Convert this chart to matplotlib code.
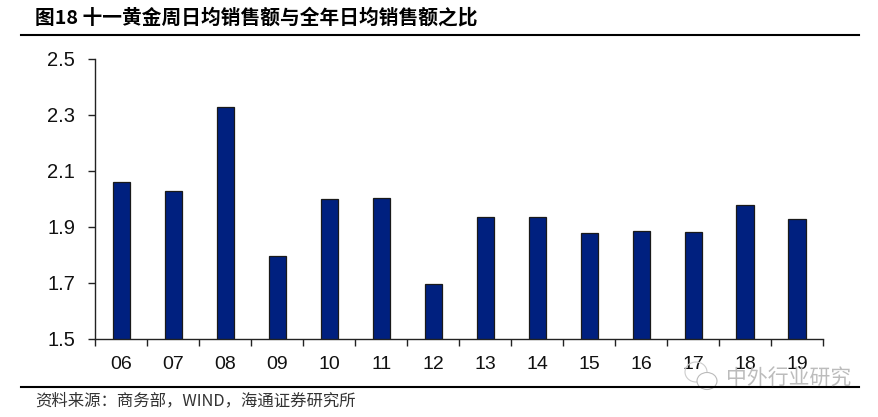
import matplotlib
matplotlib.use("Agg")
import matplotlib.pyplot as plt
from matplotlib.patches import Ellipse
from matplotlib.lines import Line2D

CJK = ['Noto Sans CJK SC', 'DejaVu Sans']
LAT = ['Liberation Sans', 'DejaVu Sans']

years = ['06', '07', '08', '09', '10', '11', '12', '13', '14', '15', '16', '17', '18', '19']
ratio = [2.06, 2.03, 2.33, 1.795, 2.00, 2.005, 1.695, 1.935, 1.935, 1.88, 1.885, 1.882, 1.98, 1.927]
yticks = [1.5, 1.7, 1.9, 2.1, 2.3, 2.5]
title = '图18 十一黄金周日均销售额与全年日均销售额之比'
source = '资料来源：商务部，WIND，海通证券研究所'
mark = '中外行业研究'

W, H = 879, 417
fig = plt.figure(figsize=(W / 100, H / 100), dpi=100)
ax = fig.add_axes([95.5 / W, 1 - 339 / H, 727.5 / W, 280 / H])

xs = range(len(years))
ax.bar(xs, ratio, width=0.33, color='#00207F', edgecolor='#1a1a1a', linewidth=0.9, zorder=2)
ax.set_xlim(-0.5, len(years) - 0.5)
ax.set_ylim(1.5, 2.5)
ax.set_yticks(yticks)
ax.set_yticklabels([f'{v:.1f}' for v in yticks], family=LAT, fontsize=14.5, color='#111111')
ax.set_xticks([i - 0.5 for i in range(len(years) + 1)])
ax.set_xticklabels([''] * (len(years) + 1))
for i, y in zip(xs, years):
    ax.annotate(y, (i, 0), xycoords=('data', 'axes fraction'), xytext=(0, -18.5), textcoords='offset points',
                ha='center', va='center', family=LAT, fontsize=14, color='#111111', zorder=5)
ax.tick_params(axis='x', length=5, width=1, color='#222222', direction='out')
ax.tick_params(axis='y', length=5, width=1, color='#222222', direction='out', pad=9.5)
for s in ('top', 'right'):
    ax.spines[s].set_visible(False)
for s in ('left', 'bottom'):
    ax.spines[s].set_linewidth(1)
    ax.spines[s].set_color('#222222')

fig.add_artist(Line2D([21 / W, 859 / W], [1 - 34.5 / H] * 2, color='black', lw=1.5))
fig.add_artist(Line2D([21 / W, 859 / W], [1 - 387 / H] * 2, color='black', lw=1.5))
fig.text(35 / W, 1 - 17 / H, title, family=CJK, fontsize=14.2, fontweight='bold', va='center', ha='left', color='black')
fig.text(35 / W, 1 - 401 / H, source, family=CJK, fontsize=11.8, va='center', ha='left', color='#333333')

fig.add_artist(Ellipse((696 / W, 1 - 372 / H), 22 / W, 20 / H, facecolor='none', edgecolor='#cccccc', lw=0.8))
fig.add_artist(Ellipse((707 / W, 1 - 381 / H), 20 / W, 17 / H, facecolor='white', edgecolor='#bbbbbb', lw=0.8))
fig.text(788.5 / W, 1 - 379 / H, mark, family=CJK, fontsize=15, va='center', ha='center', color='#b5b5b5', alpha=0.9)

fig.savefig('out.png', dpi=100)
